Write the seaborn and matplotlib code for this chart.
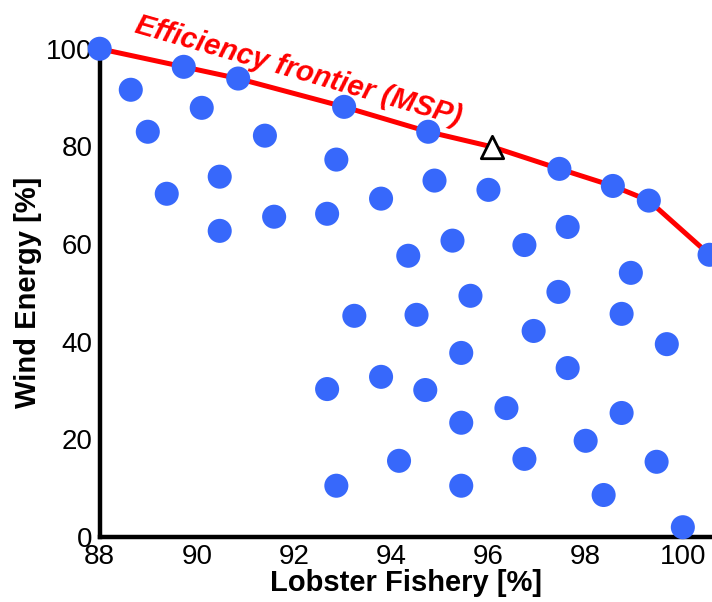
#!/usr/bin/env python3

import matplotlib
matplotlib.use("Agg")
import matplotlib.pyplot as plt
import pandas as pd
import seaborn as sns

# Points on the efficiency frontier (MSP), left to right
frontier_x = [88.0, 89.73, 90.85, 93.03, 94.76, 97.46, 98.56, 99.30, 100.55]
frontier_y = [100.0, 96.3, 93.9, 88.1, 83.0, 75.4, 71.9, 68.9, 57.8]

# Triangle marker sitting on the frontier
msp_x = [96.08]
msp_y = [79.9]

# Remaining (dominated) plans
other_x = [88.64, 88.99, 89.38, 90.10, 90.47, 90.47, 91.40, 91.59, 92.68, 92.87,
           92.68, 92.87, 93.24, 93.79, 93.79, 94.35, 94.52, 94.70, 94.16, 94.89,
           95.26, 95.44, 95.44, 95.44, 95.63, 96.00, 96.37, 96.74, 96.93, 96.74,
           97.44, 97.63, 97.63, 98.00, 98.37, 98.74, 98.74, 98.93, 99.46, 99.67,
           100.0]
other_y = [91.6, 83.0, 70.3, 87.9, 73.8, 62.7, 82.2, 65.6, 66.2, 77.3,
           30.3, 10.5, 45.3, 69.3, 32.8, 57.6, 45.5, 30.1, 15.6, 73.0,
           60.7, 37.7, 23.4, 10.5, 49.4, 71.1, 26.4, 59.8, 42.2, 16.0,
           50.2, 63.5, 34.6, 19.7, 8.6, 45.7, 25.4, 54.1, 15.4, 39.5,
           2.0]

x_ticks = [88, 90, 92, 94, 96, 98, 100]
y_ticks = [0, 20, 40, 60, 80, 100]

BLUE = "#3768fb"
RED = "#ff0000"

sns.set_style("white")
plt.rcParams["font.family"] = ["Liberation Sans", "DejaVu Sans"]
plt.rcParams["text.color"] = "black"
plt.rcParams["axes.labelcolor"] = "black"

fig = plt.figure(figsize=(7.12, 6.02), dpi=100)
ax = fig.add_axes([0.140, 0.108, 0.860, 0.811])

frontier = pd.DataFrame({"x": frontier_x[:5] + msp_x + frontier_x[5:],
                         "y": frontier_y[:5] + msp_y + frontier_y[5:]})
sns.lineplot(data=frontier, x="x", y="y", sort=False, color=RED,
             linewidth=3.6, ax=ax, zorder=2, clip_on=False)

others = pd.DataFrame({"x": other_x, "y": other_y})
sns.scatterplot(data=others, x="x", y="y", color=BLUE, s=300,
                edgecolor="none", ax=ax, zorder=3, clip_on=False)

front_pts = pd.DataFrame({"x": frontier_x, "y": frontier_y})
sns.scatterplot(data=front_pts, x="x", y="y", color=BLUE, s=300,
                edgecolor="none", ax=ax, zorder=3, clip_on=False)

ax.scatter(msp_x, msp_y, marker="^", s=260, facecolor="white",
           edgecolor="black", linewidth=2, zorder=4, clip_on=False)

ax.text(92.1, 95.5, "Efficiency frontier (MSP)", color=RED, fontsize=21,
        fontweight="bold", fontstyle="italic", rotation=-16,
        ha="center", va="center", zorder=5)

ax.set_xlim(88, 100.6)
ax.set_ylim(0, 100)
ax.set_xticks(x_ticks)
ax.set_yticks(y_ticks)
ax.tick_params(direction="in", length=5, width=2.5, labelsize=20,
               labelcolor="black", color="black")
ax.tick_params(axis="x", pad=5)
ax.tick_params(axis="y", pad=5)

for side in ["top", "right"]:
    ax.spines[side].set_visible(False)
for side in ["left", "bottom"]:
    ax.spines[side].set_linewidth(3.2)
    ax.spines[side].set_color("black")

ax.set_xlabel("Lobster Fishery [%]", fontsize=21, fontweight="bold", labelpad=-1)
ax.set_ylabel("Wind Energy [%]", fontsize=21, fontweight="bold", labelpad=3)

fig.savefig("out.png", dpi=100)
plt.close(fig)
